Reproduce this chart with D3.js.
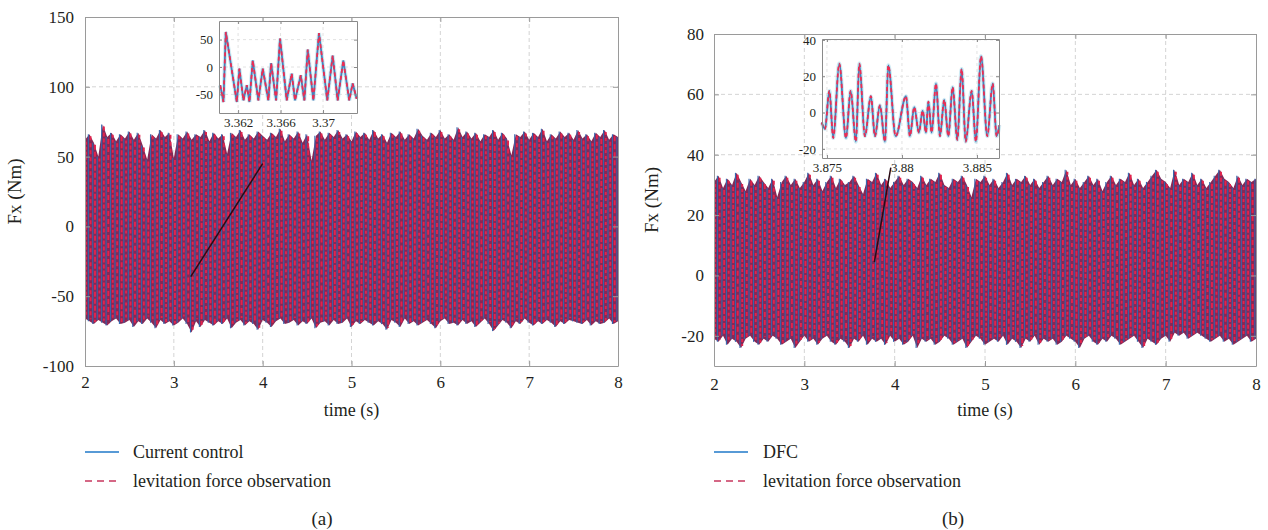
<!DOCTYPE html>
<html>
<head>
<meta charset="utf-8">
<script src="https://cdn.jsdelivr.net/npm/d3@7"></script>
<style>
  body { margin: 0; background: #fff; }
  svg { display: block; }
  text { font-family: "Liberation Serif", "Times New Roman", serif; fill: #231f20; }
</style>
</head>
<body>
<svg id="chart" width="1268" height="530"></svg>
<script>
// ---- data ----
// envelopes of the dense signal, sampled every tStep seconds from tStart
var tStart = 2, tStep = 0.05;
var xTicks = [2, 3, 4, 5, 6, 7, 8];
var yTicksA = [-100, -50, 0, 50, 100, 150];
var yTicksB = [-20, 0, 20, 40, 60, 80];

var upperA = [
  62, 66, 60, 50, 73, 64, 67, 61, 66, 63,
  68, 62, 67, 58, 48, 66, 63, 69, 64, 67,
  49, 66, 63, 68, 62, 66, 64, 69, 61, 67,
  63, 66, 52, 67, 64, 69, 62, 66, 63, 68,
  65, 62, 67, 64, 70, 61, 66, 63, 68, 60,
  66, 47, 65, 68, 62, 67, 64, 69, 63, 66,
  61, 68, 64, 67, 62, 69, 63, 66, 60, 67,
  64, 68, 62, 66, 63, 70, 65, 62, 67, 64,
  69, 63, 66, 62, 71, 64, 68, 63, 67, 61,
  66, 64, 69, 62, 67, 63, 51, 66, 64, 68,
  62, 67, 64, 70, 61, 66, 63, 68, 64, 67,
  62, 69, 63, 66, 61, 67, 64, 69, 62, 66,
  64
];
var lowerA = [
  -66, -68, -70, -67, -69, -71, -68, -66, -70, -69,
  -67, -72, -68, -70, -66, -69, -73, -67, -70, -68,
  -71, -69, -66, -70, -76, -68, -72, -67, -69, -71,
  -68, -70, -66, -73, -69, -67, -71, -68, -70, -74,
  -67, -69, -72, -68, -66, -70, -69, -67, -71, -68,
  -70, -66, -73, -69, -68, -71, -67, -70, -69, -66,
  -72, -68, -70, -67, -69, -71, -68, -70, -74, -67,
  -69, -72, -66, -70, -68, -71, -69, -67, -70, -73,
  -68, -66, -70, -69, -71, -67, -70, -68, -72, -69,
  -66, -70, -75, -71, -67, -69, -73, -68, -70, -66,
  -69, -71, -68, -70, -67, -69, -72, -68, -70, -67,
  -68, -69, -70, -67, -71, -68, -70, -69, -66, -70,
  -68
];
var upperB = [
  31, 33, 29, 32, 30, 34, 31, 28, 32, 30,
  33, 31, 29, 32, 26, 31, 33, 30, 32, 29,
  31, 34, 30, 32, 28, 31, 33, 29, 32, 30,
  31, 33, 30, 27, 32, 31, 34, 30, 32, 29,
  31, 33, 30, 32, 31, 29, 33, 30, 32, 31,
  34, 30, 29, 32, 31, 33, 30, 26, 32, 31,
  33, 30, 32, 29, 31, 34, 30, 32, 31, 33,
  30, 32, 29, 31, 33, 30, 32, 31, 35, 30,
  32, 29, 31, 33, 30, 32, 28, 31, 33, 30,
  32, 31, 34, 30, 32, 29, 31, 33, 35, 32,
  31, 29, 35, 30, 32, 31, 34, 30, 32, 29,
  31, 33, 35, 32, 31, 29, 33, 30, 32, 31,
  32
];
var lowerB = [
  -21, -22, -20, -23, -21, -22, -24, -21, -20, -22,
  -23, -21, -22, -20, -21, -23, -22, -21, -24, -22,
  -20, -22, -21, -23, -21, -20, -22, -23, -21, -22,
  -24, -21, -22, -20, -23, -21, -22, -21, -23, -20,
  -22, -21, -23, -22, -20, -24, -21, -22, -21, -23,
  -22, -20, -21, -23, -22, -21, -24, -22, -20, -21,
  -23, -22, -21, -22, -20, -23, -21, -22, -24, -21,
  -22, -20, -23, -21, -22, -21, -23, -22, -20, -21,
  -22, -24, -21, -20, -22, -23, -21, -22, -20, -21,
  -23, -22, -21, -20, -22, -24, -21, -22, -23, -21,
  -20, -22, -19, -20, -19, -21, -20, -19, -20, -21,
  -22, -21, -20, -22, -21, -23, -22, -21, -20, -22,
  -21
];

// zoomed-in windows (insets)
var zoomTimeA = [3.36031, 3.36062, 3.36084, 3.36188, 3.36212, 3.36250, 3.36282, 3.36307, 3.36338, 3.36391,
  3.36432, 3.36485, 3.36511, 3.36558, 3.36595, 3.36658, 3.36705, 3.36736, 3.36790, 3.36824,
  3.36856, 3.36909, 3.36962, 3.37040, 3.37091, 3.37138, 3.37191, 3.37247, 3.37279, 3.37317];
var zoomValA = [-33, -64, 64, -64, -3, -61, -33, -64, 12, -61,
  -3, -61, 7, -61, 52, -61, -12, -61, -15, -61,
  32, -61, 62, -61, 21, -61, 12, -61, -30, -58];

var zoomTimeB = [3.87465, 3.87487, 3.87516, 3.87542, 3.87582, 3.87627, 3.87658, 3.87693, 3.87716, 3.87753,
  3.87793, 3.87820, 3.87853, 3.87887, 3.87909, 3.87958, 3.88027, 3.88053, 3.88082, 3.88113,
  3.88138, 3.88160, 3.88176, 3.88198, 3.88227, 3.88253, 3.88282, 3.88309, 3.88338, 3.88369,
  3.88398, 3.88425, 3.88465, 3.88493, 3.88527, 3.88569, 3.88605, 3.88631, 3.88649];
var zoomValB = [-5.5, -9, 12, -14, 27, -14, 12, -16, 27, -13,
  9, -13, 4, -16, 26, -13, 9, -13, 3, -11,
  1, -11, 6, -11, 16, -13, 7, -13, 14, -15,
  24, -16, 12, -16, 31, -13, 16, -13, -7];

var insetXTicksA = [3.362, 3.366, 3.37];
var insetYTicksA = [-50, 0, 50];
var insetXTicksB = [3.875, 3.88, 3.885];
var insetYTicksB = [-20, 0, 20, 40];

var legendA = ["Current control", "levitation force observation"];
var legendB = ["DFC", "levitation force observation"];

// pointer lines from the band to the inset, in data units [time, value]
var calloutA = [[3.19, -36], [4.0, 45]];
var calloutB = [[3.775, 4.4], [3.957, 35.7]];

var blue = "#1f78c8", red = "#e3234c", bandFill = "#862856";
var serif = '"Liberation Serif", "Times New Roman", serif';

var svg = d3.select("#chart");

function styleAxis(ag, size, col) {
  ag.attr("font-family", serif);
  ag.select(".domain").attr("stroke", col);
  ag.selectAll(".tick line").attr("stroke", col);
  ag.selectAll("text").attr("font-size", size).attr("fill", "#231f20").style("font-family", serif);
}

function drawPanel(p) {
  var g = svg.append("g");
  var x = d3.scaleLinear().domain([2, 8]).range([p.left, p.right]);
  var y = d3.scaleLinear().domain(p.yDomain).range([p.bottom, p.top]);

  // dashed grid
  g.selectAll(".gx").data(xTicks.slice(1, -1)).enter().append("line")
    .attr("x1", function (d) { return x(d); }).attr("x2", function (d) { return x(d); })
    .attr("y1", p.top).attr("y2", p.bottom)
    .attr("stroke", "#d4d4d4").attr("stroke-dasharray", "4,3");
  g.selectAll(".gy").data(p.yTicks.slice(1, -1)).enter().append("line")
    .attr("y1", function (d) { return y(d); }).attr("y2", function (d) { return y(d); })
    .attr("x1", p.left).attr("x2", p.right)
    .attr("stroke", "#d4d4d4").attr("stroke-dasharray", "4,3");

  var clipId = "clip" + p.id;
  svg.append("clipPath").attr("id", clipId).append("rect")
    .attr("x", p.left).attr("y", p.top).attr("width", p.right - p.left).attr("height", p.bottom - p.top);

  var times = p.upper.map(function (d, i) { return tStart + i * tStep; });
  var band = g.append("g").attr("clip-path", "url(#" + clipId + ")");

  var area = d3.area()
    .x(function (d, i) { return x(times[i]); })
    .y0(function (d, i) { return y(p.lower[i]); })
    .y1(function (d, i) { return y(p.upper[i]); });
  band.append("path").datum(p.upper).attr("d", area).attr("fill", bandFill);

  // one stroke per sample, peak to trough: control (solid) then observation (dashed)
  var idx = d3.range(p.upper.length);
  band.selectAll(".sb").data(idx).enter().append("line")
    .attr("x1", function (i) { return x(times[i] - tStep / 4); })
    .attr("x2", function (i) { return x(times[i] - tStep / 4); })
    .attr("y1", function (i) { return y(p.upper[i]); })
    .attr("y2", function (i) { return y(p.lower[i]); })
    .attr("stroke", "#3466ae").attr("stroke-width", 1.1);
  band.selectAll(".sr").data(idx).enter().append("line")
    .attr("x1", function (i) { return x(times[i] + tStep / 4); })
    .attr("x2", function (i) { return x(times[i] + tStep / 4); })
    .attr("y1", function (i) { return y(p.upper[i]) + 2; })
    .attr("y2", function (i) { return y(p.lower[i]) - 2; })
    .attr("stroke", red).attr("stroke-width", 1.9)
    .attr("stroke-dasharray", function (i) { return (3 + i % 3) + "," + (2 + i % 2); });

  // pointer to inset
  var line = d3.line().x(function (d) { return x(d[0]); }).y(function (d) { return y(d[1]); });
  g.append("path").datum(p.callout).attr("d", line)
    .attr("stroke", "#2a0a14").attr("stroke-width", 1.5).attr("fill", "none");

  // box + inward ticks
  var fmt = function (d) { return String(d); };
  var axB = d3.axisBottom(x).tickValues(xTicks).tickSizeInner(-5).tickSizeOuter(0).tickPadding(p.xPad).tickFormat(fmt);
  var axT = d3.axisTop(x).tickValues(xTicks).tickSizeInner(-5).tickSizeOuter(0).tickFormat("");
  var axL = d3.axisLeft(y).tickValues(p.yTicks).tickSizeInner(-5).tickSizeOuter(0).tickPadding(p.yPad).tickFormat(fmt);
  var axR = d3.axisRight(y).tickValues(p.yTicks).tickSizeInner(-5).tickSizeOuter(0).tickFormat("");
  [[axB, "translate(0," + p.bottom + ")"], [axT, "translate(0," + p.top + ")"],
   [axL, "translate(" + p.left + ",0)"], [axR, "translate(" + p.right + ",0)"]].forEach(function (a) {
    styleAxis(g.append("g").attr("transform", a[1]).call(a[0]), 17, "#9a9a9a");
  });

  g.append("text").attr("x", x(5)).attr("y", p.bottom + 50).attr("text-anchor", "middle")
    .attr("font-size", 18).text("time (s)");
  g.append("text").attr("transform", "translate(" + p.yLabelX + "," + ((p.top + p.bottom) / 2) + ") rotate(-90)")
    .attr("text-anchor", "middle").attr("font-size", 19).text("Fx (Nm)");

  // inset
  var ins = p.inset;
  var ix = d3.scaleLinear().domain(ins.xDomain).range([ins.left, ins.right]);
  var iy = d3.scaleLinear().domain(ins.yDomain).range([ins.bottom, ins.top]);
  var ig = g.append("g");
  ig.append("rect").attr("x", ins.left).attr("y", ins.top)
    .attr("width", ins.right - ins.left).attr("height", ins.bottom - ins.top).attr("fill", "#fff");
  ig.selectAll(".igx").data(ins.xTicks).enter().append("line")
    .attr("x1", function (d) { return ix(d); }).attr("x2", function (d) { return ix(d); })
    .attr("y1", ins.top).attr("y2", ins.bottom).attr("stroke", "#e2e2e2").attr("stroke-dasharray", "3,3");
  ig.selectAll(".igy").data(ins.yTicks).enter().append("line")
    .attr("y1", function (d) { return iy(d); }).attr("y2", function (d) { return iy(d); })
    .attr("x1", ins.left).attr("x2", ins.right).attr("stroke", "#e2e2e2").attr("stroke-dasharray", "3,3");
  var iline = d3.line().curve(ins.curve)
    .x(function (d, i) { return ix(ins.times[i]); }).y(function (d) { return iy(d); });
  ig.append("path").datum(ins.values).attr("d", iline)
    .attr("fill", "none").attr("stroke", "#9fd6e8").attr("stroke-width", 4).attr("stroke-opacity", 0.5);
  ig.append("path").datum(ins.values).attr("d", iline)
    .attr("fill", "none").attr("stroke", "#4a7fb8").attr("stroke-width", 1.8);
  ig.append("path").datum(ins.values).attr("d", iline)
    .attr("fill", "none").attr("stroke", "#ee2c52").attr("stroke-width", 1.8).attr("stroke-dasharray", "4,3");
  var iaB = d3.axisBottom(ix).tickValues(ins.xTicks).tickSizeInner(-3).tickSizeOuter(0).tickPadding(5).tickFormat(fmt);
  var iaL = d3.axisLeft(iy).tickValues(ins.yTicks).tickSizeInner(-3).tickSizeOuter(0).tickPadding(6).tickFormat(fmt);
  var iaT = d3.axisTop(ix).tickValues(ins.xTicks).tickSizeInner(-3).tickSizeOuter(0).tickFormat("");
  var iaR = d3.axisRight(iy).tickValues(ins.yTicks).tickSizeInner(-3).tickSizeOuter(0).tickFormat("");
  [[iaB, "translate(0," + ins.bottom + ")"], [iaT, "translate(0," + ins.top + ")"],
   [iaL, "translate(" + ins.left + ",0)"], [iaR, "translate(" + ins.right + ",0)"]].forEach(function (a) {
    styleAxis(ig.append("g").attr("transform", a[1]).call(a[0]), 13, "#8a8a8a");
  });

  // legend
  var lg = g.append("g");
  [[p.legend[0], blue, null, 452], [p.legend[1], "#c8365e", "7,5", 481]].forEach(function (l) {
    lg.append("line").attr("x1", p.left).attr("x2", p.left + 34).attr("y1", l[3]).attr("y2", l[3])
      .attr("stroke", l[1]).attr("stroke-width", 1.5).attr("stroke-dasharray", l[2]);
    lg.append("text").attr("x", p.legendTextX).attr("y", l[3]).attr("dy", "0.35em")
      .attr("font-size", 18).text(l[0]);
  });

  g.append("text").attr("x", p.tagX).attr("y", 518).attr("dy", "0.35em").attr("text-anchor", "middle")
    .attr("font-size", 19).text(p.tag);
}

drawPanel({
  id: "A", left: 85, right: 618, top: 17, bottom: 366, yDomain: [-100, 150], yTicks: yTicksA,
  upper: upperA, lower: lowerA, callout: calloutA, xPad: 10, yPad: 11, yLabelX: 21,
  legend: legendA, legendTextX: 133, tag: "(a)", tagX: 322,
  inset: { left: 219, right: 357, top: 21, bottom: 113, xDomain: [3.3602, 3.3732], yDomain: [-84, 84],
    xTicks: insetXTicksA, yTicks: insetYTicksA, times: zoomTimeA, values: zoomValA, curve: d3.curveLinear }
});
drawPanel({
  id: "B", left: 714, right: 1256, top: 34, bottom: 366, yDomain: [-30, 80], yTicks: yTicksB,
  upper: upperB, lower: lowerB, callout: calloutB, xPad: 12, yPad: 10, yLabelX: 658,
  legend: legendB, legendTextX: 763, tag: "(b)", tagX: 953,
  inset: { left: 822, right: 999, top: 39, bottom: 158, xDomain: [3.87467, 3.88647], yDomain: [-25, 40.5],
    xTicks: insetXTicksB, yTicks: insetYTicksB, times: zoomTimeB, values: zoomValB, curve: d3.curveMonotoneX }
});
</script>
</body>
</html>
